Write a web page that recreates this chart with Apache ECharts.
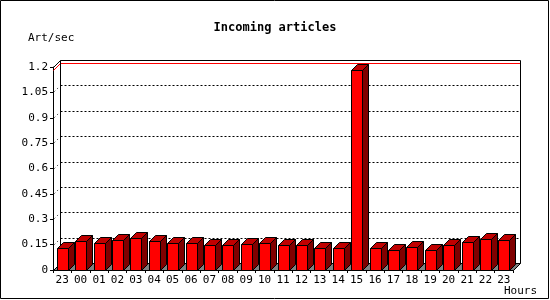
<!DOCTYPE html>
<html>
<head>
<meta charset="utf-8">
<script src="https://cdn.jsdelivr.net/npm/echarts@6/dist/echarts.min.js"></script>
<style>html,body{margin:0;padding:0;background:#fff}#c{width:550px;height:300px}</style>
</head>
<body>
<div id="c"></div>
<script>
const hours = ['23','00','01','02','03','04','05','06','07','08','09','10','11','12','13','14','15','16','17','18','19','20','21','22','23'];
const artPerSec = [0.13,0.17,0.16,0.18,0.19,0.17,0.16,0.16,0.15,0.15,0.155,0.16,0.15,0.145,0.13,0.13,1.18,0.13,0.12,0.135,0.12,0.145,0.165,0.185,0.175];
const titleText = 'Incoming articles';
const yName = 'Art/sec';
const xName = 'Hours';
const yMin = 0, yMax = 1.2, yStep = 0.15;

const FONT = '"DejaVu Sans Mono", "Liberation Mono", monospace';
const D = 7;      // back-wall depth
const BD = 6;     // bar depth
const maxVal = Math.max.apply(null, artPerSec);

function crisp(v){ return Math.round(v) + 0.5; }

function renderBack(params, api) {
  const cs = params.coordSys;
  const L = crisp(cs.x), T = crisp(cs.y), R = crisp(cs.x + cs.width), B = crisp(cs.y + cs.height);
  const ch = [];
  ch.push({type:'polygon', shape:{points:[[L,B],[R,B],[R+D,B-D],[L+D,B-D]]}, style:{fill:'#808080', stroke:'#000', lineWidth:1}});
  for (let v = yMin + yStep; v < yMax - 1e-9; v += yStep) {
    const y = crisp(api.coord([0, v])[1]) - D;
    ch.push({type:'line', shape:{x1:L+D, y1:y, x2:R+D, y2:y}, style:{stroke:'#000', lineWidth:1, lineDash:[2,2]}});
    ch.push({type:'line', shape:{x1:L+1, y1:y+D-1, x2:L+D, y2:y}, style:{stroke:'#000', lineWidth:1, lineDash:[1,3]}});
  }
  const ym = crisp(api.coord([0, maxVal])[1]) - D;
  ch.push({type:'line', shape:{x1:L+D, y1:ym, x2:R+D, y2:ym}, style:{stroke:'#ff0000', lineWidth:1}});
  ch.push({type:'line', shape:{x1:L, y1:ym+D, x2:L+D, y2:ym}, style:{stroke:'#ff0000', lineWidth:1}});
  ch.push({type:'polyline', shape:{points:[[L,T],[L+D,T-D],[R+D,T-D],[R+D,B-D]]}, style:{stroke:'#000', lineWidth:1, fill:null}});
  ch.push({type:'line', shape:{x1:L+D, y1:T-D, x2:L+D, y2:B-D}, style:{stroke:'#000', lineWidth:1}});
  return {type:'group', children:ch};
}

function renderBar(params, api) {
  const top = api.coord([api.value(0), api.value(1)]);
  const base = api.coord([api.value(0), 0]);
  const band = api.size([1, 0])[0];
  const w = Math.round(band * 0.6);
  const l = Math.round(top[0] - w / 2) + 0.5, r = l + w;
  const t = crisp(top[1]), b = crisp(base[1]);
  return {type:'group', children:[
    {type:'polygon', shape:{points:[[r,b],[r+BD,b-BD],[r+BD,t-BD],[r,t]]}, style:{fill:'#800000', stroke:'#000', lineWidth:1}},
    {type:'polygon', shape:{points:[[l,t],[l+BD,t-BD],[r+BD,t-BD],[r,t]]}, style:{fill:'#c00000', stroke:'#000', lineWidth:1}},
    {type:'rect', shape:{x:l, y:t, width:w, height:b-t}, style:{fill:'#ff0000', stroke:'#000', lineWidth:1}}
  ]};
}

const chart = echarts.init(document.getElementById('c'), null, {renderer:'canvas'});
chart.setOption({
  animation: false,
  backgroundColor: '#fff',
  title: {text: titleText, left: 'center', top: 17, textStyle:{fontFamily: FONT, fontSize: 12, fontWeight: 'bold', color:'#000'}},
  grid: {left: 53, right: 37, top: 67, bottom: 30},
  xAxis: {
    type: 'category', data: hours, boundaryGap: true,
    axisLine: {show: true, lineStyle: {color:'#000', width:1}},
    axisTick: {show: true, length: 3, lineStyle:{color:'#000'}},
    axisLabel: {color:'#000', fontFamily: FONT, fontSize: 11, margin: 5, interval: 0},
    splitLine: {show:false}
  },
  yAxis: {
    type: 'value', min: yMin, max: yMax, interval: yStep,
    axisLine: {show: true, lineStyle: {color:'#000', width:1}},
    axisTick: {show: true, length: 3, lineStyle:{color:'#000'}},
    axisLabel: {color:'#000', fontFamily: FONT, fontSize: 11, margin: 5},
    splitLine: {show:false}
  },
  graphic: [
    {type:'rect', shape:{x:0.5, y:0.5, width:548, height:298}, style:{fill:null, stroke:'#000', lineWidth:1}, z:100},
    {type:'text', left: 28, top: 33, style:{text: yName, font: '11px ' + FONT, fill:'#000'}},
    {type:'text', left: 504, top: 286, style:{text: xName, font: '11px ' + FONT, fill:'#000'}}
  ],
  series: [
    {type:'custom', renderItem: renderBack, data: [[0]], z: 1, silent: true},
    {type:'custom', renderItem: renderBar, data: artPerSec.map((v,i)=>[i,v]), encode:{x:0, y:1}, z: 2}
  ]
});
</script>
</body>
</html>
